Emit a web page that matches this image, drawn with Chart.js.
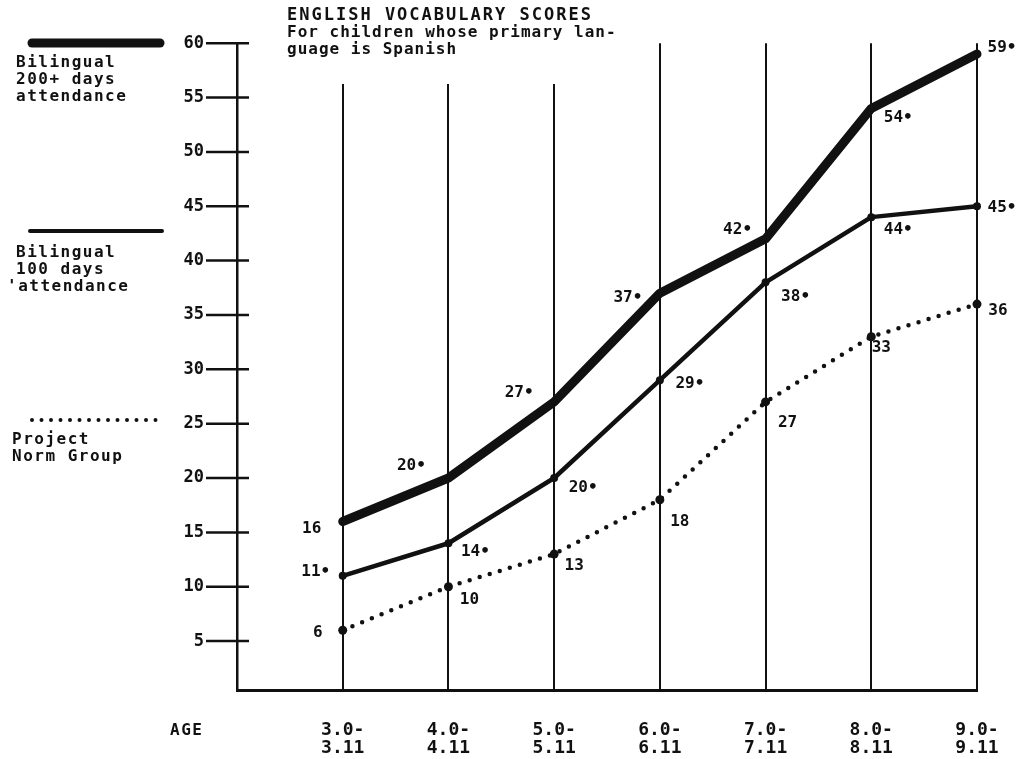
<!DOCTYPE html>
<html lang="en">
<head>
  <meta charset="UTF-8">
  <title>English Vocabulary Scores</title>
  <script src="https://cdn.jsdelivr.net/npm/chart.js"></script>
  <style>
    body {
      margin: 0;
      background: #fff;
    }
    .wrap {
      width: 1024px;
      height: 759px;
    }
  </style>
</head>
<body>

  <div class="wrap">
    <canvas id="vocabChart" width="1024" height="759"></canvas>
  </div>

  <script>
    // age groups (two-line tick labels)
    const ageGroups = [
      ['3.0-', '3.11'], ['4.0-', '4.11'], ['5.0-', '5.11'], ['6.0-', '6.11'],
      ['7.0-', '7.11'], ['8.0-', '8.11'], ['9.0-', '9.11']
    ];
    const bilingual200 = [16, 20, 27, 37, 42, 54, 59];
    const bilingual100 = [11, 14, 20, 29, 38, 44, 45];
    const normGroup = [6, 10, 13, 18, 27, 33, 36];
    const yTicks = [5, 10, 15, 20, 25, 30, 35, 40, 45, 50, 55, 60];

    const INK = '#111';
    const MONO = '"DejaVu Sans Mono", "Liberation Mono", monospace';

    function points(values) {
      return values.map((v, i) => ({ x: i + 1, y: v }));
    }

    // label offsets from each point (px), per series
    const labelOffsets = [
      [[-31, 7], [-37, -12], [-35, -9], [-32, 5], [-28, -9], [27, 9], [25, -6]],
      [[-27, -4], [27, 9], [29, 10], [30, 4], [30, 14], [27, 13], [25, 2]],
      [[-25, 3], [21, 13], [20, 12], [20, 22], [22, 21], [10, 11], [21, 7]]
    ];
    const labelDots = [true, true, false];

    const paperPlugin = {
      id: 'paper',
      afterDraw(chart) {
        const ctx = chart.ctx;
        const y = chart.scales.y;
        ctx.save();

        // white block cutting the grid lines under the title
        ctx.fillStyle = '#fff';
        ctx.fillRect(282, 0, 350, 84);

        // tick marks crossing the y axis
        ctx.strokeStyle = INK;
        ctx.lineWidth = 2.5;
        yTicks.forEach(t => {
          const py = y.getPixelForValue(t);
          ctx.beginPath();
          ctx.moveTo(206, py);
          ctx.lineTo(249, py);
          ctx.stroke();
        });

        ctx.fillStyle = INK;
        ctx.textBaseline = 'middle';
        ctx.textAlign = 'left';

        // title
        ctx.font = 'bold 17px ' + MONO;
        ctx.letterSpacing = '2px';
        ctx.fillText('ENGLISH VOCABULARY SCORES', 287, 16);
        ctx.font = 'bold 16px ' + MONO;
        ctx.letterSpacing = '1px';
        ctx.fillText('For children whose primary lan-', 287, 33);
        ctx.fillText('guage is Spanish', 287, 50);

        // legend
        ctx.font = 'bold 16px ' + MONO;
        ctx.letterSpacing = '1.5px';
        ctx.lineCap = 'round';
        ctx.lineWidth = 9;
        ctx.beginPath(); ctx.moveTo(32, 43); ctx.lineTo(160, 43); ctx.stroke();
        ctx.fillText('Bilingual', 16, 63);
        ctx.fillText('200+ days', 16, 80);
        ctx.fillText('attendance', 16, 97);

        ctx.lineWidth = 4;
        ctx.beginPath(); ctx.moveTo(30, 231); ctx.lineTo(162, 231); ctx.stroke();
        ctx.fillText('Bilingual', 16, 253);
        ctx.fillText('100 days', 16, 270);
        ctx.fillText("'attendance", 7, 287);

        ctx.lineWidth = 4;
        ctx.setLineDash([0, 9.5]);
        ctx.beginPath(); ctx.moveTo(32, 420); ctx.lineTo(162, 420); ctx.stroke();
        ctx.setLineDash([]);
        ctx.fillText('Project', 12, 440);
        ctx.fillText('Norm Group', 12, 457);

        // axis caption
        ctx.fillText('AGE', 170, 731);

        // value labels
        ctx.font = 'bold 16px ' + MONO;
        ctx.letterSpacing = '0px';
        ctx.textAlign = 'center';
        chart.data.datasets.forEach((ds, si) => {
          const meta = chart.getDatasetMeta(si);
          meta.data.forEach((pt, i) => {
            const [dx, dy] = labelOffsets[si][i];
            const txt = String(ds.data[i].y) + (labelDots[si] && !(si === 0 && i === 0) ? '\u2022' : '');
            ctx.fillText(txt, pt.x + dx, pt.y + dy);
          });
        });

        ctx.restore();
      }
    };

    new Chart(document.getElementById('vocabChart'), {
      type: 'line',
      data: {
        datasets: [
          {
            label: 'Bilingual 200+ days attendance',
            data: points(bilingual200),
            borderColor: INK,
            borderWidth: 9,
            borderCapStyle: 'round',
            borderJoinStyle: 'round',
            pointRadius: 3,
            pointBackgroundColor: INK,
            pointBorderWidth: 0,
            clip: false
          },
          {
            label: 'Bilingual 100 days attendance',
            data: points(bilingual100),
            borderColor: INK,
            borderWidth: 4.5,
            borderJoinStyle: 'round',
            pointRadius: 4,
            pointBackgroundColor: INK,
            pointBorderWidth: 0,
            clip: false
          },
          {
            label: 'Project Norm Group',
            data: points(normGroup),
            borderColor: INK,
            borderWidth: 4.5,
            borderDash: [0, 10.5],
            borderCapStyle: 'round',
            pointRadius: 4.5,
            pointBackgroundColor: INK,
            pointBorderWidth: 0,
            clip: false
          }
        ]
      },
      options: {
        responsive: false,
        animation: false,
        events: [],
        layout: { padding: { top: 42, right: 47, left: 0, bottom: 0 } },
        plugins: {
          legend: { display: false },
          tooltip: { enabled: false }
        },
        scales: {
          x: {
            type: 'linear',
            min: 0,
            max: 7,
            afterFit(scale) {
              scale.height = 69;
              scale.paddingLeft = 0;
              scale.paddingRight = 0;
            },
            afterBuildTicks(scale) {
              scale.ticks = [0, 1, 2, 3, 4, 5, 6, 7].map(v => ({ value: v }));
            },
            ticks: {
              color: INK,
              padding: 31,
              maxRotation: 0,
              autoSkip: false,
              font: { family: MONO, size: 18, weight: 'bold', lineHeight: 1.0 },
              callback: v => (v >= 1 ? ageGroups[v - 1] : '')
            },
            grid: {
              drawTicks: false,
              color: INK,
              lineWidth: 2
            },
            border: { display: true, color: INK, width: 3 }
          },
          y: {
            min: 0.5,
            max: 60,
            afterFit(scale) { scale.width = 237; },
            afterBuildTicks(scale) {
              scale.ticks = yTicks.map(v => ({ value: v }));
            },
            ticks: {
              color: INK,
              padding: 33,
              font: { family: MONO, size: 17, weight: 'bold' }
            },
            grid: { display: true, drawOnChartArea: false, drawTicks: false },
            border: { display: true, color: INK, width: 2.5 }
          }
        }
      },
      plugins: [paperPlugin]
    });
  </script>

</body>
</html>
